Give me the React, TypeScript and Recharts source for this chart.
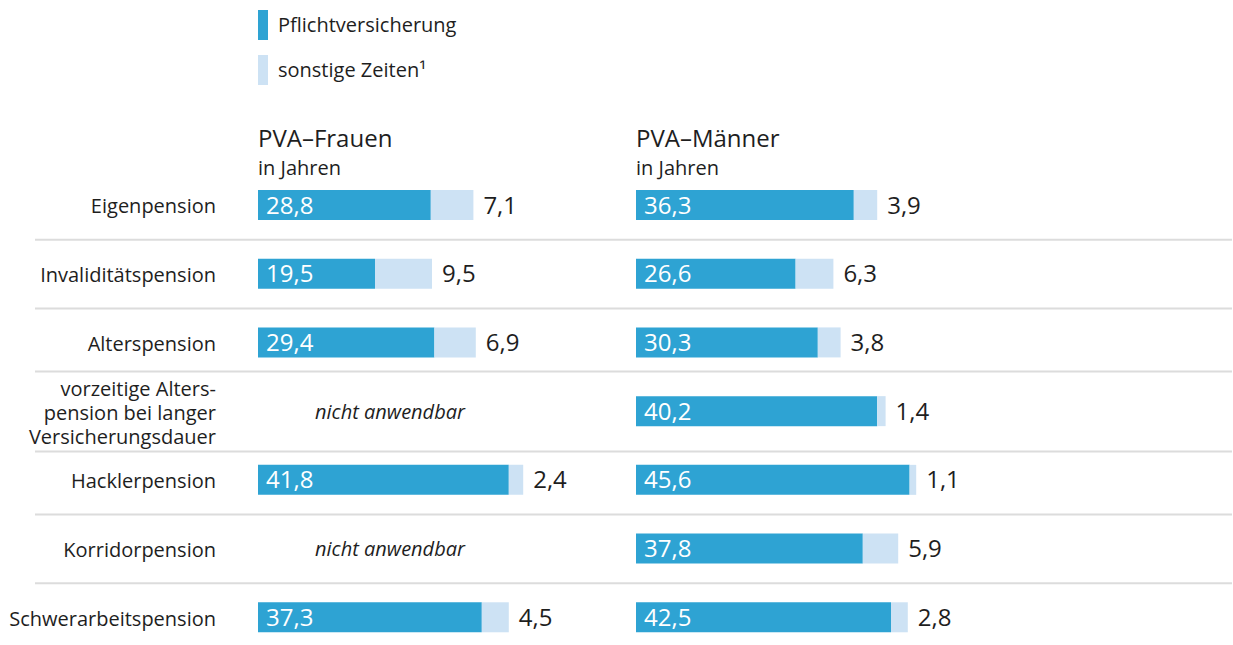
import { BarChart, Bar, XAxis, YAxis, Legend, LabelList } from 'recharts'

const BLUE = '#2ea3d3'
const LIGHT = '#cde2f4'
const TEXT = '#1e1e1e'
const RULE = '#dcdcdc'
const FONT = '"Open Sans", "Noto Sans", sans-serif'

const categories = [
  'Eigenpension',
  'Invaliditätspension',
  'Alterspension',
  'vorzeitige Alterspension bei langer Versicherungsdauer',
  'Hacklerpension',
  'Korridorpension',
  'Schwerarbeitspension',
]
// how the category labels wrap
const categoryLines = [
  ['Eigenpension'],
  ['Invaliditätspension'],
  ['Alterspension'],
  ['vorzeitige Alters-', 'pension bei langer', 'Versicherungsdauer'],
  ['Hacklerpension'],
  ['Korridorpension'],
  ['Schwerarbeitspension'],
]

const frauenPflicht = [28.8, 19.5, 29.4, null, 41.8, null, 37.3]
const frauenSonstige = [7.1, 9.5, 6.9, null, 2.4, null, 4.5]
const maennerPflicht = [36.3, 26.6, 30.3, 40.2, 45.6, 37.8, 42.5]
const maennerSonstige = [3.9, 6.3, 3.8, 1.4, 1.1, 5.9, 2.8]

const NOT_APPLICABLE = 'nicht anwendbar'

const frauenData = categories.map((name, i) => ({ name, pflicht: frauenPflicht[i], sonstige: frauenSonstige[i] }))
const maennerData = categories.map((name, i) => ({ name, pflicht: maennerPflicht[i], sonstige: maennerSonstige[i] }))

const HEIGHT = 661
const MARGIN_TOP = 171
const MARGIN_BOTTOM = 9
const BAND = (HEIGHT - MARGIN_TOP - MARGIN_BOTTOM) / categories.length
const LINE_H = 24

const fmt = (v: unknown) => (v == null || v === '' ? '' : Number(v).toFixed(1).replace('.', ','))

// category label + row separator above it (+ "nicht anwendbar" for empty Frauen rows)
function CategoryTick(props: any) {
  const { y, payload } = props
  const i = categories.indexOf(payload.value)
  const lines = categoryLines[i]
  let sepY = y - BAND / 2
  if (lines.length > 1) sepY = Math.min(sepY, y - (lines.length * LINE_H) / 2 - 4)
  if (i > 0 && categoryLines[i - 1].length > 1) {
    sepY = Math.max(sepY, y - BAND + (categoryLines[i - 1].length * LINE_H) / 2 + 4)
  }
  const firstDy = -((lines.length - 1) * LINE_H) / 2
  return (
    <g>
      {i > 0 && <line x1={35} x2={1232} y1={sepY} y2={sepY} stroke={RULE} strokeWidth={2} />}
      <text x={216} y={y} textAnchor="end" fill={TEXT} fontSize={20} fontFamily={FONT} dominantBaseline="central">
        {lines.map((l, k) => (
          <tspan key={k} x={216} dy={k === 0 ? firstDy : LINE_H}>{l}</tspan>
        ))}
      </text>
      {frauenPflicht[i] == null && (
        <text x={390} y={y} textAnchor="middle" fill={TEXT} fontSize={20} fontStyle="italic" fontFamily={FONT} dominantBaseline="central">
          {NOT_APPLICABLE}
        </text>
      )}
    </g>
  )
}

function LegendContent(props: any) {
  const items = props.payload ?? []
  return (
    <div style={{ fontFamily: FONT, fontSize: 20, color: TEXT }}>
      {items.map((it: any) => (
        <div key={it.value} style={{ display: 'flex', alignItems: 'center', height: 30, marginBottom: 14.5 }}>
          <span style={{ width: 10, height: 30, background: it.color, display: 'inline-block', marginRight: 10 }} />
          <span style={{ lineHeight: '30px' }}>{it.value}</span>
        </div>
      ))}
    </div>
  )
}

function Title({ left, title }: { left: number; title: string }) {
  return (
    <>
      <div style={{ position: 'absolute', left, top: 126, fontFamily: FONT, fontSize: 24, lineHeight: '24px', color: TEXT, whiteSpace: 'nowrap' }}>
        {title}
      </div>
      <div style={{ position: 'absolute', left, top: 158, fontFamily: FONT, fontSize: 20, lineHeight: '20px', color: TEXT, whiteSpace: 'nowrap' }}>
        in Jahren
      </div>
    </>
  )
}

export default function App() {
  return (
    <div style={{ position: 'absolute', left: 0, top: 0, width: 1233, height: 645, overflow: 'hidden', background: '#fff' }}>
      <style>{'.recharts-surface{overflow:visible}'}</style>
      <div style={{ position: 'absolute', left: 0, top: 0 }}>
        <BarChart layout="vertical" width={620} height={HEIGHT} data={frauenData}
          margin={{ top: MARGIN_TOP, right: 2, left: 0, bottom: MARGIN_BOTTOM }}>
          <XAxis type="number" hide domain={[0, 60]} />
          <YAxis type="category" dataKey="name" width={258} axisLine={false} tickLine={false} interval={0} tick={CategoryTick} />
          <Legend layout="vertical" align="center" verticalAlign="middle"
            wrapperStyle={{ left: 258, top: 10, width: 320 }} content={LegendContent} />
          <Bar dataKey="pflicht" name="Pflichtversicherung" stackId="f" fill={BLUE} barSize={30} isAnimationActive={false}>
            <LabelList dataKey="pflicht" position="insideLeft" offset={8} formatter={fmt} fill="#fff" fontSize={24} fontFamily={FONT} />
          </Bar>
          <Bar dataKey="sonstige" name="sonstige Zeiten¹" stackId="f" fill={LIGHT} barSize={30} isAnimationActive={false}>
            <LabelList dataKey="sonstige" position="right" offset={10} formatter={fmt} fill={TEXT} fontSize={24} fontFamily={FONT} />
          </Bar>
        </BarChart>
      </div>
      <div style={{ position: 'absolute', left: 620, top: 0 }}>
        <BarChart layout="vertical" width={613} height={HEIGHT} data={maennerData}
          margin={{ top: MARGIN_TOP, right: 9, left: 16, bottom: MARGIN_BOTTOM }}>
          <XAxis type="number" hide domain={[0, 98]} />
          <YAxis type="category" dataKey="name" hide />
          <Bar dataKey="pflicht" name="Pflichtversicherung" stackId="m" fill={BLUE} barSize={30} isAnimationActive={false}>
            <LabelList dataKey="pflicht" position="insideLeft" offset={8} formatter={fmt} fill="#fff" fontSize={24} fontFamily={FONT} />
          </Bar>
          <Bar dataKey="sonstige" name="sonstige Zeiten¹" stackId="m" fill={LIGHT} barSize={30} isAnimationActive={false}>
            <LabelList dataKey="sonstige" position="right" offset={10} formatter={fmt} fill={TEXT} fontSize={24} fontFamily={FONT} />
          </Bar>
        </BarChart>
      </div>
      <Title left={258} title="PVA–Frauen" />
      <Title left={636} title="PVA–Männer" />
    </div>
  )
}
